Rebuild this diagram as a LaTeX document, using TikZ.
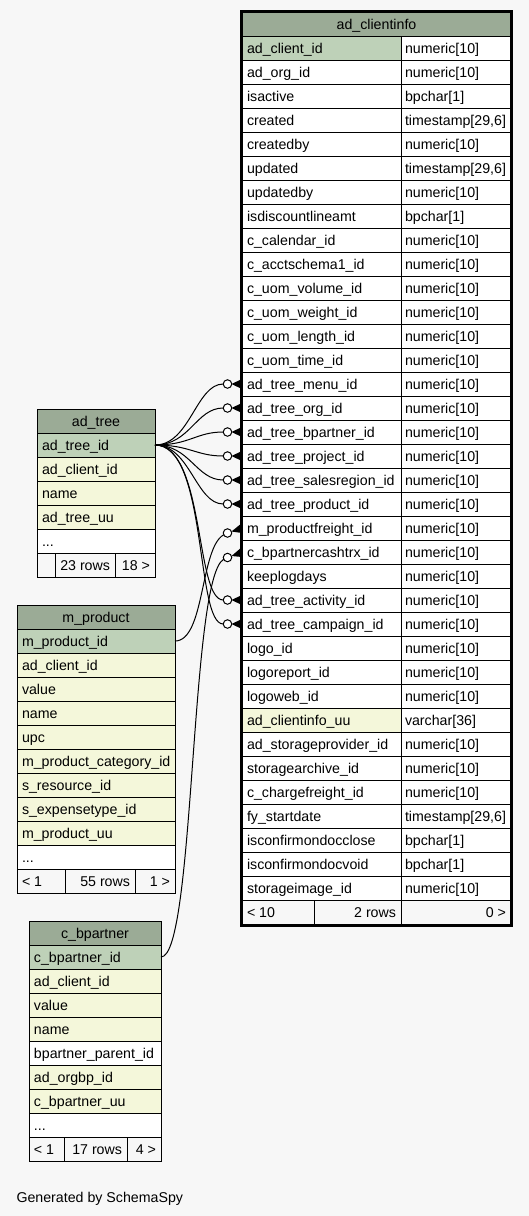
\documentclass[tikz,border=0pt]{standalone}
\usepackage{fontspec}
\setmainfont{Liberation Sans}
\definecolor{bgc}{HTML}{F7F7F7}
\definecolor{hdr}{HTML}{9BAB96}
\definecolor{pkc}{HTML}{BED1B8}
\definecolor{idx}{HTML}{F4F7DA}
\tikzset{
  cellbox/.style={rectangle, draw=black, line width=1pt, inner sep=0pt, outer sep=0pt, anchor=north west, minimum height=24pt},
  txt/.style={anchor=base west, inner sep=0pt, outer sep=0pt},
  txtr/.style={anchor=base east, inner sep=0pt, outer sep=0pt},
  odot/.style={circle, draw=black, fill=white, line width=1pt, minimum size=8.5pt, inner sep=0pt, outer sep=0pt},
  conn/.style={draw=black, line width=1pt},
}
% main table row: index, fill, name, type
\newcommand\mrow[4]{%
  \pgfmathsetmacro\rtop{12+24*#1}
  \node[cellbox, minimum width=159pt, fill=#2] (c#1) at (242,\rtop) {};
  \node[txt] (c#1n) at (247,\rtop+17) {#3};
  \node[cellbox, minimum width=110pt, fill=white] (c#1y) at (401,\rtop) {};
  \node[txt] (c#1tt) at (405,\rtop+17) {#4};
}
% small table row: prefix, index, x, width, header top, fill, text
\newcommand\srow[7]{%
  \pgfmathsetmacro\rtop{#5+24*#2}
  \node[cellbox, minimum width=#4pt, fill=#6] (#1#2) at (#3,\rtop) {};
  \node[txt] (#1#2t) at (#3+5,\rtop+17) {#7};
}
% header: name, x, y, width, text
\newcommand\tblhead[5]{%
  \node[cellbox, minimum width=#4pt, fill=hdr] (#1) at (#2,#3) {};
  \node[anchor=base, inner sep=0pt] (#1t) at (#2+#4/2,#3+17) {#5};
}
% footer cells
\newcommand\fcl[5]{%
  \node[cellbox, minimum width=#4pt, fill=bgc] (#1) at (#2,#3) {};
  \node[txt] (#1t) at (#2+5,#3+17) {#5};
}
\newcommand\fcr[5]{%
  \node[cellbox, minimum width=#4pt, fill=bgc] (#1) at (#2,#3) {};
  \node[txtr] (#1t) at (#2+#4-5,#3+17) {#5};
}
% foreign key end: name, circle y, apex y, target y
\newcommand\fkend[4]{%
  \node[odot] (#1) at (227.5,#2) {};
  \fill[black] (231.5,#3) -- (242,#4-5) -- (241,#4) -- (242,#4+5) -- cycle;
}
\begin{document}
\begin{tikzpicture}[x=1pt,y=-1pt, font=\fontsize{14.2}{17}\selectfont]
\useasboundingbox (0,0) rectangle (529,1216);
\fill[bgc] (0,0) rectangle (529,1216);

% ---------- main table ad_clientinfo ----------
\tblhead{chead}{242}{12}{269}{ad\_clientinfo}
\mrow{1}{pkc}{ad\_client\_id}{numeric[10]}
\mrow{2}{white}{ad\_org\_id}{numeric[10]}
\mrow{3}{white}{isactive}{bpchar[1]}
\mrow{4}{white}{created}{timestamp[29,6]}
\mrow{5}{white}{createdby}{numeric[10]}
\mrow{6}{white}{updated}{timestamp[29,6]}
\mrow{7}{white}{updatedby}{numeric[10]}
\mrow{8}{white}{isdiscountlineamt}{bpchar[1]}
\mrow{9}{white}{c\_calendar\_id}{numeric[10]}
\mrow{10}{white}{c\_acctschema1\_id}{numeric[10]}
\mrow{11}{white}{c\_uom\_volume\_id}{numeric[10]}
\mrow{12}{white}{c\_uom\_weight\_id}{numeric[10]}
\mrow{13}{white}{c\_uom\_length\_id}{numeric[10]}
\mrow{14}{white}{c\_uom\_time\_id}{numeric[10]}
\mrow{15}{white}{ad\_tree\_menu\_id}{numeric[10]}
\mrow{16}{white}{ad\_tree\_org\_id}{numeric[10]}
\mrow{17}{white}{ad\_tree\_bpartner\_id}{numeric[10]}
\mrow{18}{white}{ad\_tree\_project\_id}{numeric[10]}
\mrow{19}{white}{ad\_tree\_salesregion\_id}{numeric[10]}
\mrow{20}{white}{ad\_tree\_product\_id}{numeric[10]}
\mrow{21}{white}{m\_productfreight\_id}{numeric[10]}
\mrow{22}{white}{c\_bpartnercashtrx\_id}{numeric[10]}
\mrow{23}{white}{keeplogdays}{numeric[10]}
\mrow{24}{white}{ad\_tree\_activity\_id}{numeric[10]}
\mrow{25}{white}{ad\_tree\_campaign\_id}{numeric[10]}
\mrow{26}{white}{logo\_id}{numeric[10]}
\mrow{27}{white}{logoreport\_id}{numeric[10]}
\mrow{28}{white}{logoweb\_id}{numeric[10]}
\mrow{29}{idx}{ad\_clientinfo\_uu}{varchar[36]}
\mrow{30}{white}{ad\_storageprovider\_id}{numeric[10]}
\mrow{31}{white}{storagearchive\_id}{numeric[10]}
\mrow{32}{white}{c\_chargefreight\_id}{numeric[10]}
\mrow{33}{white}{fy\_startdate}{timestamp[29,6]}
\mrow{34}{white}{isconfirmondocclose}{bpchar[1]}
\mrow{35}{white}{isconfirmondocvoid}{bpchar[1]}
\mrow{36}{white}{storageimage\_id}{numeric[10]}
\fcl{cf1}{242}{900}{72}{< 10}
\fcr{cf2}{314}{900}{87}{2 rows}
\fcr{cf3}{401}{900}{110}{0 >}
\draw[line width=3pt] (241.5,11.5) rectangle (511.5,925.5);

% ---------- ad_tree ----------
\tblhead{athead}{37}{409}{118}{ad\_tree}
\srow{at}{1}{37}{118}{409}{pkc}{ad\_tree\_id}
\srow{at}{2}{37}{118}{409}{idx}{ad\_client\_id}
\srow{at}{3}{37}{118}{409}{idx}{name}
\srow{at}{4}{37}{118}{409}{idx}{ad\_tree\_uu}
\srow{at}{5}{37}{118}{409}{white}{...}
\fcl{atf1}{37}{553}{18}{}
\fcr{atf2}{55}{553}{60}{23 rows}
\fcr{atf3}{115}{553}{40}{18 >}

% ---------- m_product ----------
\tblhead{mphead}{17}{605}{158}{m\_product}
\srow{mp}{1}{17}{158}{605}{pkc}{m\_product\_id}
\srow{mp}{2}{17}{158}{605}{idx}{ad\_client\_id}
\srow{mp}{3}{17}{158}{605}{idx}{value}
\srow{mp}{4}{17}{158}{605}{idx}{name}
\srow{mp}{5}{17}{158}{605}{idx}{upc}
\srow{mp}{6}{17}{158}{605}{idx}{m\_product\_category\_id}
\srow{mp}{7}{17}{158}{605}{idx}{s\_resource\_id}
\srow{mp}{8}{17}{158}{605}{idx}{s\_expensetype\_id}
\srow{mp}{9}{17}{158}{605}{idx}{m\_product\_uu}
\srow{mp}{10}{17}{158}{605}{white}{...}
\fcl{mpf1}{17}{869}{48}{< 1}
\fcr{mpf2}{65}{869}{70}{55 rows}
\fcr{mpf3}{135}{869}{40}{1 >}

% ---------- c_bpartner ----------
\tblhead{bphead}{29}{921}{132}{c\_bpartner}
\srow{bp}{1}{29}{132}{921}{pkc}{c\_bpartner\_id}
\srow{bp}{2}{29}{132}{921}{idx}{ad\_client\_id}
\srow{bp}{3}{29}{132}{921}{idx}{value}
\srow{bp}{4}{29}{132}{921}{idx}{name}
\srow{bp}{5}{29}{132}{921}{white}{bpartner\_parent\_id}
\srow{bp}{6}{29}{132}{921}{idx}{ad\_orgbp\_id}
\srow{bp}{7}{29}{132}{921}{idx}{c\_bpartner\_uu}
\srow{bp}{8}{29}{132}{921}{white}{...}
\fcl{bpf1}{29}{1137}{35}{< 1}
\fcr{bpf2}{64}{1137}{63}{17 rows}
\fcr{bpf3}{127}{1137}{34}{4 >}

% ---------- foreign key ends ----------
\fkend{k15}{384}{384}{384}
\fkend{k16}{408}{408}{408}
\fkend{k17}{432}{432}{432}
\fkend{k18}{456}{456}{456}
\fkend{k19}{480}{480}{480}
\fkend{k20}{504}{504}{504}
\fkend{k21}{533}{531.5}{528}
\fkend{k22}{557.5}{556}{552}
\fkend{k24}{600}{600}{600}
\fkend{k25}{624}{624}{624}

% ---------- connectors ----------
\draw[conn] (at1.east) .. controls (190,445) and (196,384) .. (k15.west);
\draw[conn] (at1.east) .. controls (190,445) and (196,408) .. (k16.west);
\draw[conn] (at1.east) .. controls (190,445) and (196,432) .. (k17.west);
\draw[conn] (at1.east) .. controls (190,445) and (196,456) .. (k18.west);
\draw[conn] (at1.east) .. controls (190,445) and (196,480) .. (k19.west);
\draw[conn] (at1.east) .. controls (190,445) and (196,504) .. (k20.west);
\draw[conn] (at1.east) .. controls (205,445) and (195,600) .. (k24.west);
\draw[conn] (at1.east) .. controls (208,445) and (195,624) .. (k25.west);
\draw[conn] (mp1.east) .. controls (205,641) and (200,548) .. (k21.205);
\draw[conn] (bp1.east) .. controls (195,957) and (190,578) .. (k22.205);

% ---------- caption ----------
\node[txt] (gen) at (16.5,1202) {Generated by SchemaSpy};
\end{tikzpicture}
\end{document}
